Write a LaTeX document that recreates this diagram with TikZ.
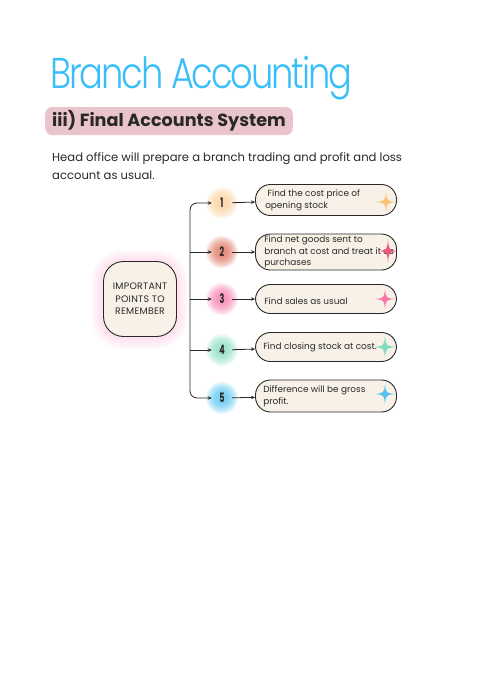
\documentclass[tikz,border=0pt]{standalone}
\usepackage{fontspec}
\setmainfont{Poppins}
\newfontfamily\titlefont{Poppins}[UprightFont=* Light]
\usetikzlibrary{arrows.meta, positioning, calc}
\definecolor{titleblue}{RGB}{58,190,248}
\definecolor{headpink}{RGB}{234,196,204}
\definecolor{ink}{RGB}{40,40,40}
\definecolor{cream}{RGB}{248,241,232}
\definecolor{glowA}{RGB}{252,205,150}
\definecolor{glowB}{RGB}{222,110,90}
\definecolor{glowC}{RGB}{248,120,170}
\definecolor{glowD}{RGB}{130,220,190}
\definecolor{glowE}{RGB}{80,195,240}
\definecolor{starA}{RGB}{250,195,120}
\definecolor{starB}{RGB}{232,90,125}
\definecolor{hubglow}{RGB}{252,200,225}
\tikzset{
  every node/.style={text=ink},
  pointbox/.style = {rectangle, rounded corners=15pt, draw=ink, fill=cream, line width=0.9pt,
                     minimum width=141pt, inner sep=0pt},
  pointtxt/.style = {anchor=west, align=left, inner sep=0pt, font=\fontsize{8.9}{11.6}\selectfont},
  hubbox/.style   = {rectangle, rounded corners=20pt, draw=ink, fill=cream, line width=0.9pt,
                     minimum width=73pt, minimum height=75pt, align=center,
                     font=\fontsize{9.4}{12.5}\selectfont\addfontfeatures{LetterSpace=3}},
  numlbl/.style   = {circle, minimum size=20pt, inner sep=0pt, font=\bfseries\fontsize{13}{13}\selectfont},
  arrow/.style    = {-{Stealth[length=4pt,width=3.5pt]}, line width=0.8pt, draw=ink},
  headbox/.style  = {rectangle, rounded corners=7pt, fill=headpink, minimum height=28pt,
                     inner xsep=7pt, font=\bfseries\fontsize{17.6}{22}\selectfont},
  sparkle/.pic    = {\fill (0,-1) .. controls (0.1,-0.1) .. (1,0) .. controls (0.1,0.1) .. (0,1)
                     .. controls (-0.1,0.1) .. (-1,0) .. controls (-0.1,-0.1) .. cycle;},
}
\newcommand\numtxt[1]{\scalebox{0.62}[1]{#1}}
\begin{document}
\begin{tikzpicture}[x=1pt, y=-1pt]
  \useasboundingbox (0,0) rectangle (500,688);

  % ---- heading ----
  \node[anchor=base west, inner sep=0pt, text=titleblue,
        font=\titlefont\fontsize{43}{48}\selectfont\addfontfeatures{LetterSpace=-6}] (title) at (50,88)
    {\scalebox{0.82}[1]{Branch Accounting}};
  \node[headbox, anchor=west] (head) at (45,121) {iii) Final Accounts System};
  \node[anchor=north west, align=left, inner sep=0pt, font=\fontsize{11.6}{18.5}\selectfont] (intro) at (52,152)
    {Head office will prepare a branch trading and profit and loss\\account as usual.};

  % ---- glows ----
  \foreach \g [evaluate=\g as \d using \g*1.5, evaluate=\g as \r using 20+\g*1.5] in {1,...,8}
    \fill[hubglow, opacity=0.09, rounded corners=\r pt] ({103-\d},{262-\d}) rectangle ({176+\d},{337+\d});
  \foreach \c/\y in {glowA/203, glowB/252, glowC/299, glowD/350, glowE/398}
    \foreach \r in {5,...,16}
      \fill[\c, opacity=0.11] (222,\y) circle (\r);

  % ---- hub ----
  \node[hubbox] (imp) at (140,299) {IMPORTANT\\POINTS TO\\REMEMBER};

  % ---- numbers ----
  \node[numlbl] (n1) at (222,203) {\numtxt{1}};
  \node[numlbl] (n2) at (222,252) {\numtxt{2}};
  \node[numlbl] (n3) at (222,299) {\numtxt{3}};
  \node[numlbl] (n4) at (222,350) {\numtxt{4}};
  \node[numlbl] (n5) at (222,398) {\numtxt{5}};

  % ---- point boxes ----
  \node[pointbox, minimum height=31pt] (b1) at (326,200) {};
  \node[pointbox, minimum height=36pt] (b2) at (326,252) {};
  \node[pointbox, minimum height=29pt] (b3) at (326,299) {};
  \node[pointbox, minimum height=29pt] (b4) at (326,347) {};
  \node[pointbox, minimum height=32pt] (b5) at (326,396) {};

  \node[pointtxt] (t1) at ([xshift=10]b1.west) {\ Find the cost price of\\opening stock};
  \node[pointtxt] (t2) at ([xshift=9]b2.west) {Find net goods sent to\\branch at cost and treat it as\\purchases};
  \node[pointtxt] (t3) at ([xshift=9,yshift=-2]b3.west) {Find sales as usual};
  \node[pointtxt] (t4) at ([xshift=8]b4.west) {Find closing stock at cost.};
  \node[pointtxt] (t5) at ([xshift=8]b5.west) {Difference will be gross\\profit.};

  % ---- sparkles ----
  \pic[color=starA, scale=10] at (386,202) {sparkle};
  \pic[color=starB, xscale=9, yscale=12] at (388,251) {sparkle};
  \pic[color=glowC, scale=10] at (385,299) {sparkle};
  \pic[color=glowD, scale=11] at (385,347) {sparkle};
  \pic[color=glowE, scale=10] at (385,394) {sparkle};

  % ---- branches ----
  \coordinate (fork) at (190,299);
  \draw[arrow, rounded corners=7pt] (fork) |- (n1);
  \draw[arrow, rounded corners=7pt] (fork) |- (n5);
  \draw[arrow] (fork |- n2) -- (n2);
  \draw[arrow] (fork) -- (n3);
  \draw[arrow] (fork |- n4) -- (n4);

  \draw[arrow] (n1) -- (b1);
  \draw[arrow] (n2) -- (b2);
  \draw[arrow] (n3) -- (b3);
  \draw[arrow] (n4) -- (b4);
  \draw[arrow] (n5) -- (b5);
\end{tikzpicture}
\end{document}
